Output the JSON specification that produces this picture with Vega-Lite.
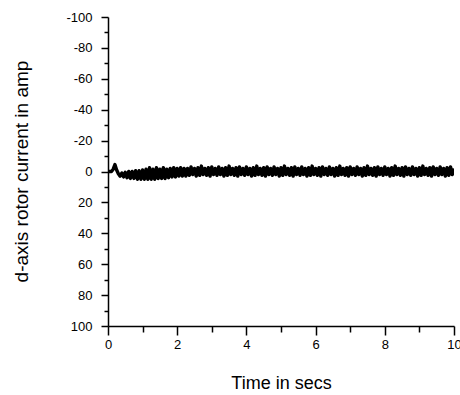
{
  "$schema": "https://vega.github.io/schema/vega-lite/v6.json",
  "width": 346,
  "height": 309,
  "autosize": {"type": "none"},
  "padding": {"left": 108, "top": 17, "right": 6, "bottom": 69},
  "background": "white",
  "config": {
    "view": {"stroke": null},
    "font": "Liberation Sans",
    "axis": {
      "grid": false,
      "domainColor": "black",
      "domainWidth": 1.5,
      "tickColor": "black",
      "tickWidth": 1.5,
      "labelColor": "black",
      "titleColor": "black",
      "labelFont": "Liberation Sans",
      "titleFont": "Liberation Sans",
      "titleFontWeight": "normal"
    }
  },
  "data": {
    "values": [
      {"t": 0.0, "i": 0}, {"t": 0.05, "i": 0}, {"t": 0.1, "i": 0}, {"t": 0.15, "i": -1.5},
      {"t": 0.2, "i": -4.5}, {"t": 0.25, "i": -1}, {"t": 0.3, "i": 1.5}, {"t": 0.35, "i": 3},
      {"t": 0.4, "i": 1}, {"t": 0.45, "i": 3.5}, {"t": 0.5, "i": 0.5}, {"t": 0.55, "i": 4},
      {"t": 0.6, "i": 0}, {"t": 0.65, "i": 4.5}, {"t": 0.7, "i": 0}, {"t": 0.75, "i": 4.5},
      {"t": 0.8, "i": -0.5}, {"t": 0.85, "i": 5}, {"t": 0.9, "i": -0.5}, {"t": 0.95, "i": 5},
      {"t": 1.0, "i": -1}, {"t": 1.05, "i": 5}, {"t": 1.1, "i": -1.5}, {"t": 1.15, "i": 5},
      {"t": 1.2, "i": -2.5}, {"t": 1.25, "i": 5}, {"t": 1.3, "i": -1.5}, {"t": 1.35, "i": 5},
      {"t": 1.4, "i": -2.5}, {"t": 1.45, "i": 4.5}, {"t": 1.5, "i": -1.5}, {"t": 1.55, "i": 4.5},
      {"t": 1.6, "i": -2.5}, {"t": 1.65, "i": 4.5}, {"t": 1.7, "i": -1.5}, {"t": 1.75, "i": 4},
      {"t": 1.8, "i": -2}, {"t": 1.85, "i": 3.5}, {"t": 1.9, "i": -2.5}, {"t": 1.95, "i": 3.5},
      {"t": 2.0, "i": -2}, {"t": 2.05, "i": 3}, {"t": 2.1, "i": -2.5}, {"t": 2.15, "i": 3},
      {"t": 2.2, "i": -2}, {"t": 2.25, "i": 3},
      {"t": 2.3, "i": -2}, {"t": 2.35, "i": 2.5}, {"t": 2.4, "i": -3}, {"t": 2.45, "i": 2},
      {"t": 2.5, "i": -2}, {"t": 2.55, "i": 3}, {"t": 2.6, "i": -2.5}, {"t": 2.65, "i": 2.5},
      {"t": 2.7, "i": -3.5}, {"t": 2.75, "i": 2}, {"t": 2.8, "i": -2}, {"t": 2.85, "i": 2.5},
      {"t": 2.9, "i": -2.5}, {"t": 2.95, "i": 3}, {"t": 3.0, "i": -3}, {"t": 3.05, "i": 2},
      {"t": 3.1, "i": -2}, {"t": 3.15, "i": 2.5}, {"t": 3.2, "i": -3}, {"t": 3.25, "i": 2},
      {"t": 3.3, "i": -2}, {"t": 3.35, "i": 3}, {"t": 3.4, "i": -2.5}, {"t": 3.45, "i": 2.5},
      {"t": 3.5, "i": -3.5}, {"t": 3.55, "i": 2}, {"t": 3.6, "i": -2}, {"t": 3.65, "i": 2.5},
      {"t": 3.7, "i": -2.5}, {"t": 3.75, "i": 3}, {"t": 3.8, "i": -3}, {"t": 3.85, "i": 2},
      {"t": 3.9, "i": -2}, {"t": 3.95, "i": 2.5}, {"t": 4.0, "i": -3}, {"t": 4.05, "i": 2},
      {"t": 4.1, "i": -2}, {"t": 4.15, "i": 3}, {"t": 4.2, "i": -2.5}, {"t": 4.25, "i": 2.5},
      {"t": 4.3, "i": -3.5}, {"t": 4.35, "i": 2}, {"t": 4.4, "i": -2}, {"t": 4.45, "i": 2.5},
      {"t": 4.5, "i": -2.5}, {"t": 4.55, "i": 3}, {"t": 4.6, "i": -3}, {"t": 4.65, "i": 2},
      {"t": 4.7, "i": -2}, {"t": 4.75, "i": 2.5}, {"t": 4.8, "i": -3}, {"t": 4.85, "i": 2},
      {"t": 4.9, "i": -2}, {"t": 4.95, "i": 3}, {"t": 5.0, "i": -2.5}, {"t": 5.05, "i": 2.5},
      {"t": 5.1, "i": -3.5}, {"t": 5.15, "i": 2}, {"t": 5.2, "i": -2}, {"t": 5.25, "i": 2.5},
      {"t": 5.3, "i": -2.5}, {"t": 5.35, "i": 3}, {"t": 5.4, "i": -3}, {"t": 5.45, "i": 2},
      {"t": 5.5, "i": -2}, {"t": 5.55, "i": 2.5}, {"t": 5.6, "i": -3}, {"t": 5.65, "i": 2},
      {"t": 5.7, "i": -2}, {"t": 5.75, "i": 3}, {"t": 5.8, "i": -2.5}, {"t": 5.85, "i": 2.5},
      {"t": 5.9, "i": -3.5}, {"t": 5.95, "i": 2}, {"t": 6.0, "i": -2}, {"t": 6.05, "i": 2.5},
      {"t": 6.1, "i": -2.5}, {"t": 6.15, "i": 3}, {"t": 6.2, "i": -3}, {"t": 6.25, "i": 2},
      {"t": 6.3, "i": -2}, {"t": 6.35, "i": 2.5}, {"t": 6.4, "i": -3}, {"t": 6.45, "i": 2},
      {"t": 6.5, "i": -2}, {"t": 6.55, "i": 3}, {"t": 6.6, "i": -2.5}, {"t": 6.65, "i": 2.5},
      {"t": 6.7, "i": -3.5}, {"t": 6.75, "i": 2}, {"t": 6.8, "i": -2}, {"t": 6.85, "i": 2.5},
      {"t": 6.9, "i": -2.5}, {"t": 6.95, "i": 3}, {"t": 7.0, "i": -3}, {"t": 7.05, "i": 2},
      {"t": 7.1, "i": -2}, {"t": 7.15, "i": 2.5}, {"t": 7.2, "i": -3}, {"t": 7.25, "i": 2},
      {"t": 7.3, "i": -2}, {"t": 7.35, "i": 3}, {"t": 7.4, "i": -2.5}, {"t": 7.45, "i": 2.5},
      {"t": 7.5, "i": -3.5}, {"t": 7.55, "i": 2}, {"t": 7.6, "i": -2}, {"t": 7.65, "i": 2.5},
      {"t": 7.7, "i": -2.5}, {"t": 7.75, "i": 3}, {"t": 7.8, "i": -3}, {"t": 7.85, "i": 2},
      {"t": 7.9, "i": -2}, {"t": 7.95, "i": 2.5}, {"t": 8.0, "i": -3}, {"t": 8.05, "i": 2},
      {"t": 8.1, "i": -2}, {"t": 8.15, "i": 3}, {"t": 8.2, "i": -2.5}, {"t": 8.25, "i": 2.5},
      {"t": 8.3, "i": -3.5}, {"t": 8.35, "i": 2}, {"t": 8.4, "i": -2}, {"t": 8.45, "i": 2.5},
      {"t": 8.5, "i": -2.5}, {"t": 8.55, "i": 3}, {"t": 8.6, "i": -3}, {"t": 8.65, "i": 2},
      {"t": 8.7, "i": -2}, {"t": 8.75, "i": 2.5}, {"t": 8.8, "i": -3}, {"t": 8.85, "i": 2},
      {"t": 8.9, "i": -2}, {"t": 8.95, "i": 3}, {"t": 9.0, "i": -2.5}, {"t": 9.05, "i": 2.5},
      {"t": 9.1, "i": -3.5}, {"t": 9.15, "i": 2}, {"t": 9.2, "i": -2}, {"t": 9.25, "i": 2.5},
      {"t": 9.3, "i": -2.5}, {"t": 9.35, "i": 3}, {"t": 9.4, "i": -3}, {"t": 9.45, "i": 2},
      {"t": 9.5, "i": -2}, {"t": 9.55, "i": 2.5}, {"t": 9.6, "i": -3}, {"t": 9.65, "i": 2},
      {"t": 9.7, "i": -2}, {"t": 9.75, "i": 3}, {"t": 9.8, "i": -2.5}, {"t": 9.85, "i": 2.5},
      {"t": 9.9, "i": -3}, {"t": 9.95, "i": 2}, {"t": 10.0, "i": -2}
    ]
  },
  "resolve": {"axis": {"x": "independent", "y": "independent"}},
  "layer": [
    {
      "mark": {"type": "line", "opacity": 0},
      "encoding": {
        "x": {
          "field": "t", "type": "quantitative",
          "scale": {"domain": [0, 10], "nice": false},
          "axis": {"orient": "bottom", "values": [1, 3, 5, 7, 9], "tickSize": 6, "labels": false, "domain": false, "title": null}
        },
        "y": {
          "field": "i", "type": "quantitative",
          "scale": {"domain": [-100, 100], "reverse": true, "nice": false},
          "axis": {"orient": "left", "values": [-90, -70, -50, -30, -10, 10, 30, 50, 70, 90], "tickSize": 4, "labels": false, "domain": false, "title": null}
        }
      }
    },
    {
      "mark": {"type": "line", "color": "black", "strokeWidth": 3.4, "strokeJoin": "round", "clip": true},
      "encoding": {
        "x": {
          "field": "t", "type": "quantitative",
          "scale": {"domain": [0, 10], "nice": false},
          "axis": {
            "orient": "bottom",
            "values": [0, 2, 4, 6, 8, 10],
            "tickSize": 9,
            "labelPadding": 3,
            "labelFontSize": 13,
            "labelFlush": false,
            "labelOverlap": false,
            "title": "Time in secs",
            "titleFontSize": 18,
            "titleBaseline": "alphabetic",
            "titleY": 62
          }
        },
        "y": {
          "field": "i", "type": "quantitative",
          "scale": {"domain": [-100, 100], "reverse": true, "nice": false},
          "axis": {
            "orient": "left",
            "values": [-100, -80, -60, -40, -20, 0, 20, 40, 60, 80, 100],
            "labelExpr": "'' + datum.value",
            "tickSize": 7,
            "labelPadding": 9,
            "labelFontSize": 13,
            "labelFlush": false,
            "labelOverlap": false,
            "title": "d-axis rotor current in amp",
            "titleFontSize": 19,
            "titleBaseline": "middle",
            "titleX": -87,
            "titleY": 154
          }
        }
      }
    }
  ]
}
